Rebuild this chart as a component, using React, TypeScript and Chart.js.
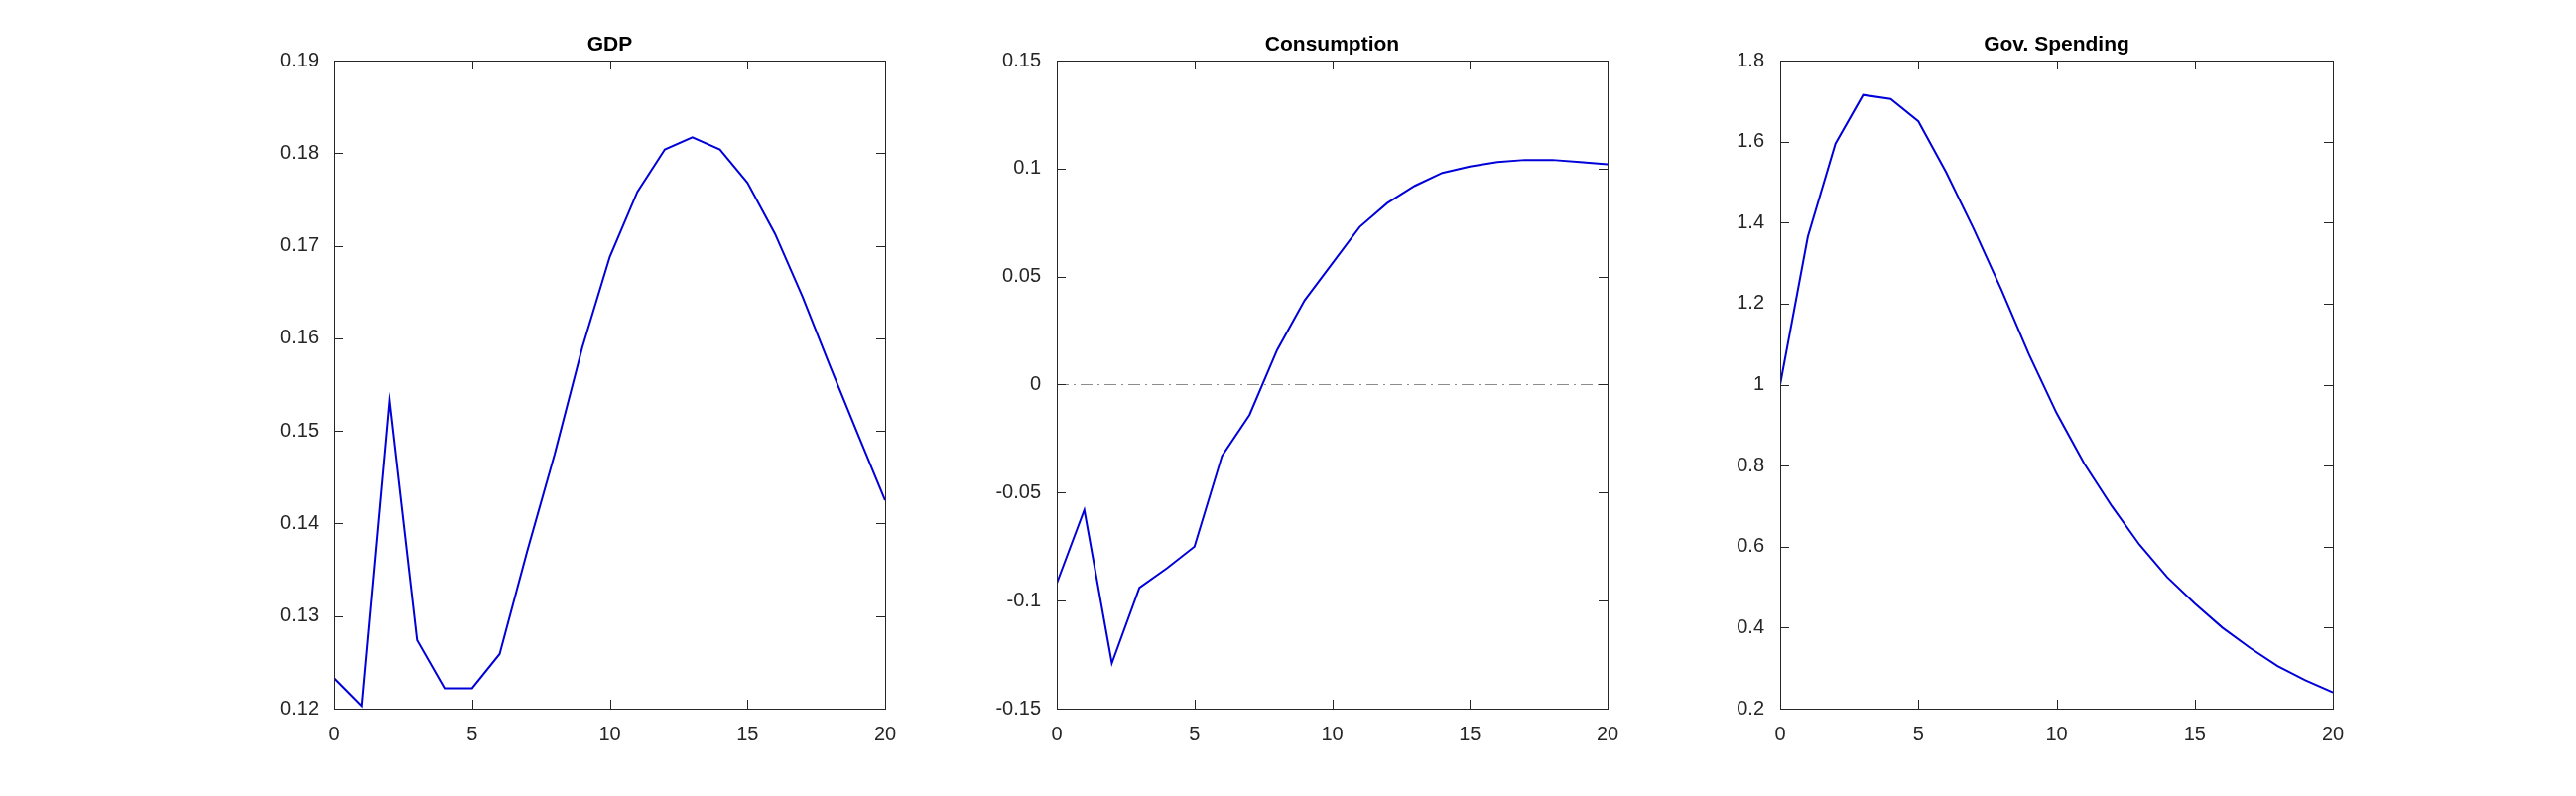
import React, { useEffect, useRef } from "react";
import { Chart, registerables } from "chart.js";
Chart.register(...registerables);

const steps = Array.from({ length: 21 }, (_, i) => i);
const gdp = [0.1233, 0.1203, 0.1532, 0.1274, 0.1222, 0.1222, 0.1259, 0.137, 0.1475, 0.159, 0.1688, 0.1758, 0.1804, 0.1817, 0.1804, 0.1768, 0.1713, 0.1645, 0.157, 0.1497, 0.1425];
const consumption = [-0.092, -0.058, -0.129, -0.094, -0.085, -0.075, -0.033, -0.014, 0.016, 0.039, 0.056, 0.073, 0.084, 0.092, 0.098, 0.101, 0.103, 0.104, 0.104, 0.103, 0.102];
const govSpending = [1.0, 1.365, 1.595, 1.715, 1.705, 1.65, 1.525, 1.385, 1.235, 1.075, 0.93, 0.805, 0.7, 0.605, 0.525, 0.46, 0.4, 0.35, 0.305, 0.27, 0.24];
const xTicks = [0, 5, 10, 15, 20];

const panels = [
  { title: "GDP", values: gdp, min: 0.12, max: 0.19, step: 0.01, dec: 2, zero: false, left: 337, width: 555 },
  { title: "Consumption", values: consumption, min: -0.15, max: 0.15, step: 0.05, dec: -1, zero: true, left: 1065, width: 555 },
  { title: "Gov. Spending", values: govSpending, min: 0.2, max: 1.8, step: 0.2, dec: -1, zero: false, left: 1794, width: 557 },
];

const TOP = 61, BOTTOM = 714, LEFTPAD = 90, RIGHTPAD = 40, H = 802;
const FONT = "'Liberation Sans', Arial, sans-serif";

function fmt(v: number, dec: number) {
  if (Math.abs(v) < 1e-9) return "0";
  if (dec > 0) return v.toFixed(dec);
  return String(parseFloat(v.toFixed(4)));
}

function Panel({ p }: { p: (typeof panels)[number] }) {
  const ref = useRef<HTMLCanvasElement>(null);
  useEffect(() => {
    const boxPlugin = {
      id: "box",
      afterDraw(chart: any) {
        const { ctx, chartArea: a, scales } = chart;
        ctx.save();
        ctx.strokeStyle = "#262626";
        ctx.lineWidth = 1;
        ctx.strokeRect(a.left + 0.5, a.top + 0.5, a.right - a.left, a.bottom - a.top);
        const t = 9;
        ctx.beginPath();
        for (const v of xTicks) {
          const x = Math.round(scales.x.getPixelForValue(v)) + 0.5;
          ctx.moveTo(x, a.bottom); ctx.lineTo(x, a.bottom - t);
          ctx.moveTo(x, a.top); ctx.lineTo(x, a.top + t);
        }
        for (let v = p.min; v <= p.max + 1e-9; v += p.step) {
          const y = Math.round(scales.y.getPixelForValue(v)) + 0.5;
          ctx.moveTo(a.left, y); ctx.lineTo(a.left + t, y);
          ctx.moveTo(a.right, y); ctx.lineTo(a.right - t, y);
        }
        ctx.stroke();
        ctx.fillStyle = "#000";
        ctx.font = `bold 21px ${FONT}`;
        ctx.textAlign = "center";
        ctx.textBaseline = "bottom";
        ctx.fillText(p.title, (a.left + a.right) / 2, a.top - 5);
        ctx.restore();
      },
    };
    const datasets: any[] = [
      {
        data: steps.map((x, i) => ({ x, y: p.values[i] })),
        borderColor: "#0000d9",
        borderWidth: 2,
        pointRadius: 0,
        tension: 0,
      },
    ];
    if (p.zero) {
      datasets.unshift({
        data: [{ x: 0, y: 0 }, { x: 20, y: 0 }],
        borderColor: "#8c8c8c",
        borderWidth: 1.2,
        borderDash: [12, 5, 2, 5],
        pointRadius: 0,
      });
    }
    const chart = new Chart(ref.current!, {
      type: "line",
      data: { datasets },
      options: {
        animation: false,
        responsive: false,
        maintainAspectRatio: false,
        layout: { padding: { top: TOP, right: RIGHTPAD, left: 0, bottom: 0 } },
        plugins: { legend: { display: false }, tooltip: { enabled: false }, title: { display: false } },
        scales: {
          x: {
            type: "linear",
            min: 0,
            max: 20,
            afterFit: (s: any) => { s.height = H - BOTTOM; },
            afterBuildTicks: (s: any) => { s.ticks = xTicks.map((v) => ({ value: v })); },
            grid: { display: false },
            border: { display: false },
            ticks: { color: "#262626", font: { size: 20, family: FONT }, padding: 6, maxRotation: 0 },
          },
          y: {
            min: p.min,
            max: p.max,
            afterFit: (s: any) => { s.width = LEFTPAD; },
            grid: { display: false },
            border: { display: false },
            ticks: {
              stepSize: p.step,
              color: "#262626",
              font: { size: 20, family: FONT },
              padding: 8,
              callback: (v: any) => fmt(Number(v), p.dec),
            },
          },
        },
      },
      plugins: [boxPlugin],
    });
    return () => chart.destroy();
  }, []);
  const w = p.width + LEFTPAD + RIGHTPAD;
  return (
    <div style={{ position: "absolute", left: p.left - LEFTPAD, top: 0, width: w, height: H }}>
      <canvas ref={ref} width={w} height={H} style={{ width: w, height: H }} />
    </div>
  );
}

export default function App() {
  return (
    <div style={{ position: "fixed", left: 0, top: 0, width: 2596, height: 802, background: "#fff" }}>
      {panels.map((p) => (
        <Panel key={p.title} p={p} />
      ))}
    </div>
  );
}
